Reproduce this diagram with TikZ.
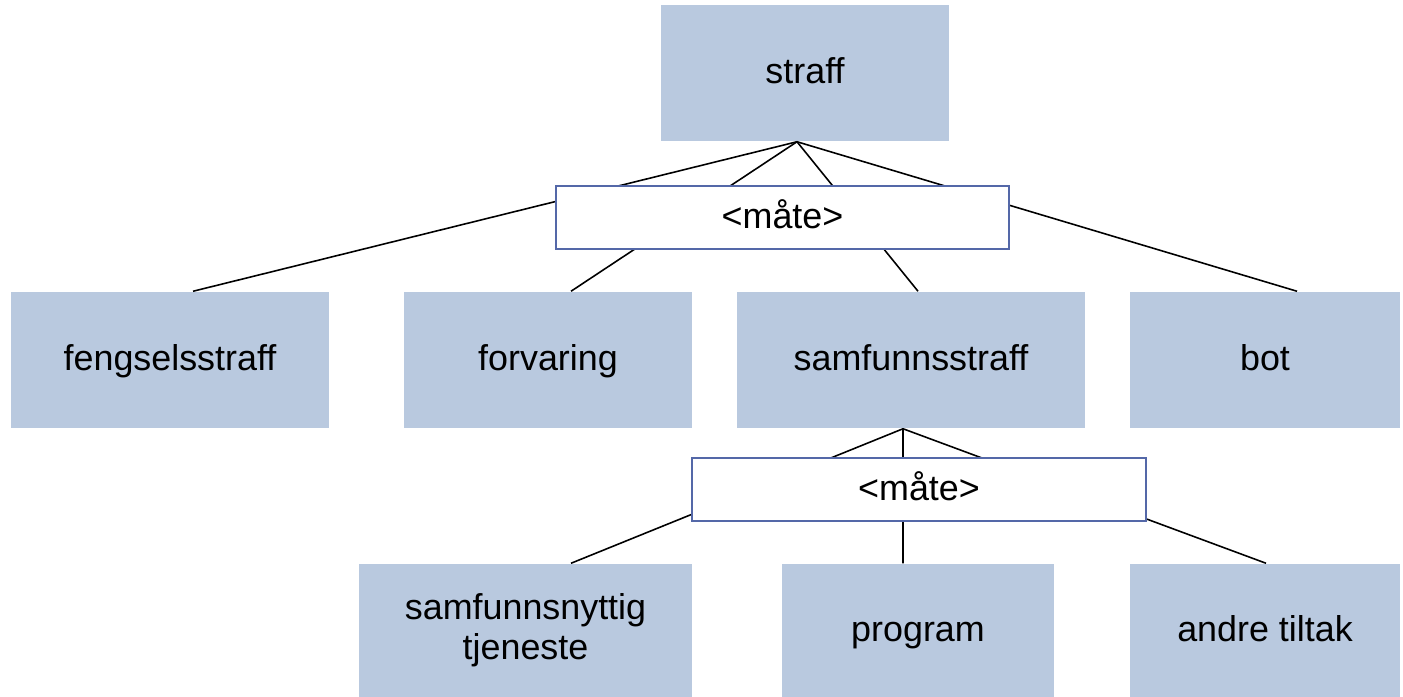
\documentclass[tikz,border=0pt]{standalone}
\usepackage{fontspec}
\setmainfont{Liberation Sans}
\usetikzlibrary{positioning}
\definecolor{boxblue}{RGB}{185,201,223}
\definecolor{edgeblue}{RGB}{84,104,168}

\begin{document}
\begin{tikzpicture}[x=0.01cm, y=-0.01cm,
    termbox/.style={fill=boxblue, inner sep=0pt, align=center, font=\fontsize{10.2}{11.4}\selectfont},
    oneline/.style={termbox, text height=1.6ex, text depth=0.45ex},
    waybox/.style={draw=edgeblue, line width=0.5pt, fill=white, inner sep=0pt, text height=1.6ex, text depth=0.45ex, font=\fontsize{10.2}{11.4}\selectfont},
    link/.style={black, line width=0.45pt},]
    \useasboundingbox (0,0) rectangle (1403,697);
    % nodes
    \node[oneline, minimum width=2.88cm, minimum height=1.36cm] (straff) at (805,73)   {straff};
    \node[oneline, minimum width=3.18cm, minimum height=1.36cm] (feng)   at (170,360)  {fengselsstraff};
    \node[oneline, minimum width=2.88cm, minimum height=1.36cm] (forv)   at (548,360)  {forvaring};
    \node[oneline, minimum width=3.48cm, minimum height=1.36cm] (samf)   at (911,360)  {samfunnsstraff};
    \node[oneline, minimum width=2.70cm, minimum height=1.36cm] (bot)    at (1265,360) {bot};
    \node[termbox, minimum width=3.33cm, minimum height=1.33cm] (tjen)   at (525.5,630.5) {samfunnsnyttig\\tjeneste};
    \node[oneline, minimum width=2.72cm, minimum height=1.33cm] (prog)   at (918,630.5) {program};
    \node[oneline, minimum width=2.70cm, minimum height=1.33cm] (andre)  at (1265,630.5) {andre tiltak};
    % lines
    \draw[link] ([xshift=-0.08cm]straff.south) -- ([xshift=0.23cm]feng.north);
    \draw[link] ([xshift=-0.08cm]straff.south) -- ([xshift=0.23cm]forv.north);
    \draw[link] ([xshift=-0.08cm]straff.south) -- ([xshift=0.07cm]samf.north);
    \draw[link] ([xshift=-0.08cm]straff.south) -- ([xshift=0.32cm]bot.north);
    \draw[link] ([xshift=-0.08cm]samf.south) -- ([xshift=0.455cm]tjen.north);
    \draw[link] ([xshift=-0.08cm]samf.south) -- ([xshift=-0.15cm]prog.north);
    \draw[link] ([xshift=-0.08cm]samf.south) -- ([xshift=0.01cm]andre.north);
    % way boxes on top of the lines
    \node[waybox, minimum width=4.53cm, minimum height=0.63cm] (way1) at (782.5,217.5) {<måte>};
    \node[waybox, minimum width=4.54cm, minimum height=0.63cm] (way2) at (919,489.5)   {<måte>};
\end{tikzpicture}
\end{document}
